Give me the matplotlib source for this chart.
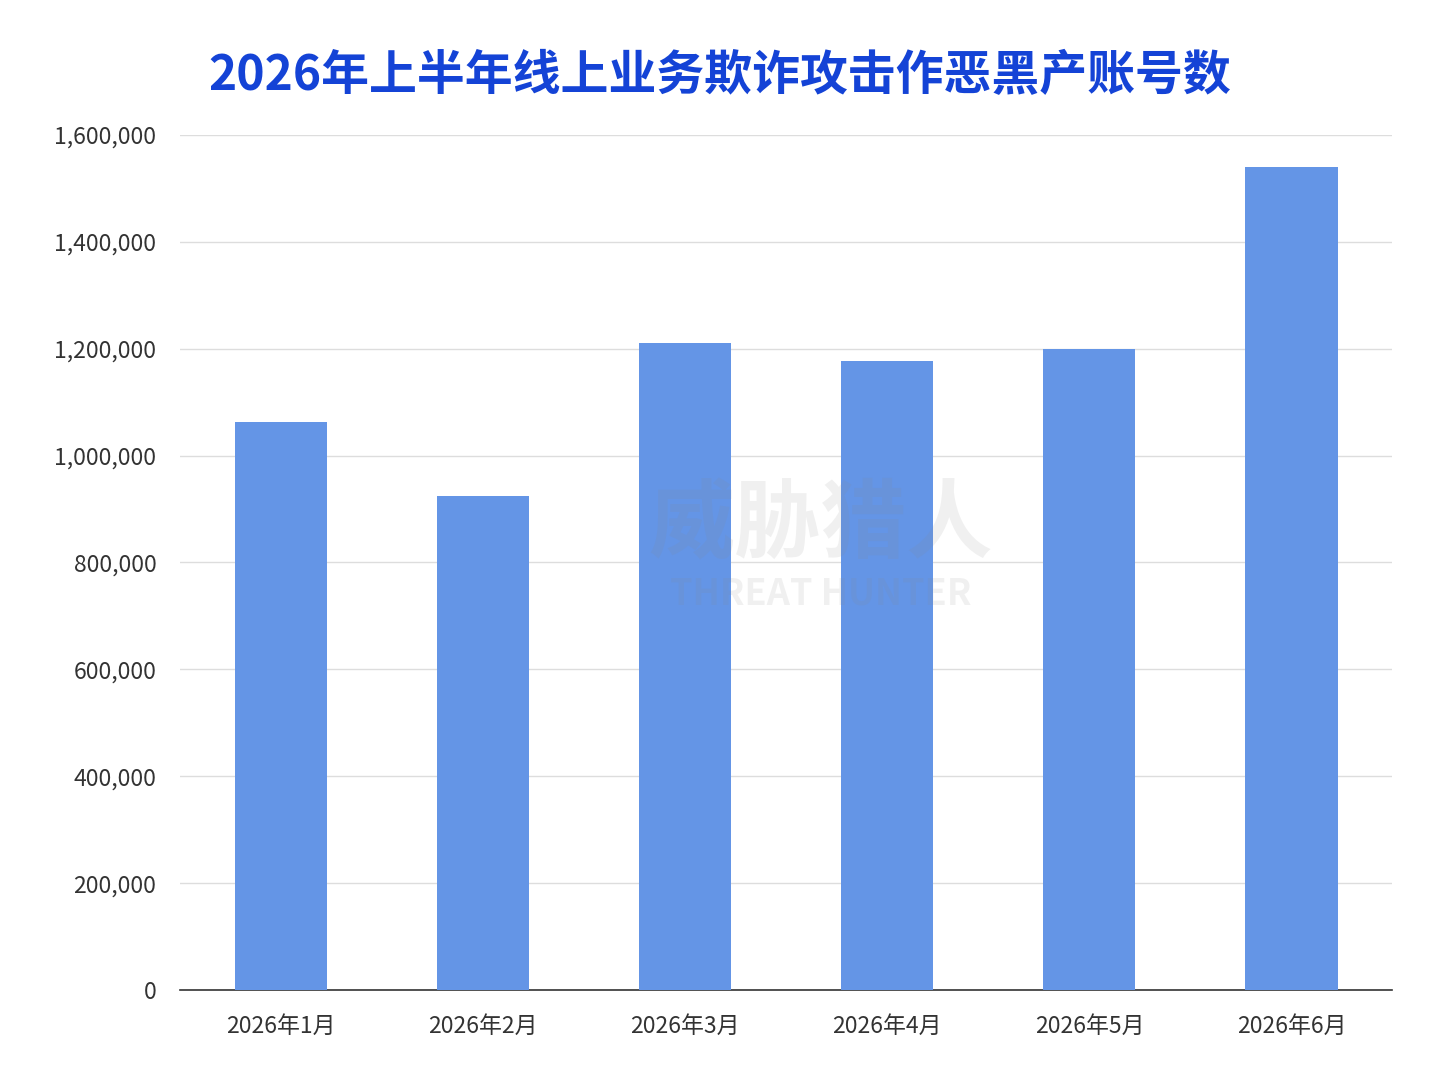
import matplotlib
matplotlib.use("Agg")
import matplotlib.pyplot as plt
from matplotlib.ticker import FuncFormatter

plt.rcParams['font.family'] = ['Noto Sans CJK SC', 'DejaVu Sans']

months = ["2026年1月", "2026年2月", "2026年3月", "2026年4月", "2026年5月", "2026年6月"]
counts = [1062000, 925000, 1210000, 1177000, 1199000, 1541000]
title = "2026年上半年线上业务欺诈攻击作恶黑产账号数"

fig = plt.figure(figsize=(14.4, 10.86), dpi=100)
ax = fig.add_axes([0.125, 0.0884, 0.842, 0.7873])
ax.bar(range(len(months)), counts, width=0.456, color="#6495E6", zorder=3)
ax.set_xlim(-0.5, len(months) - 0.5)
ax.set_ylim(0, 1600000)
ax.set_yticks(range(0, 1600001, 200000))
ax.yaxis.set_major_formatter(FuncFormatter(lambda v, p: f"{int(v):,}"))
ax.set_xticks(range(len(months)))
ax.set_xticklabels(months)
ax.tick_params(axis='both', length=0, labelsize=16.5, colors="#333333")
ax.tick_params(axis='y', pad=17)
ax.tick_params(axis='x', pad=18)
ax.grid(axis='y', color="#DDDDDD", linewidth=1, zorder=0)
for s in ["top", "right", "left"]:
    ax.spines[s].set_visible(False)
ax.spines["bottom"].set_color("#333333")
ax.spines["bottom"].set_linewidth(1.2)

fig.text(0.5, 0.93, title, ha="center", va="center", fontsize=34.5,
         fontweight="bold", color="#1443D6")
# watermark
fig.text(0.57, 0.515, "威胁猎人", ha="center", va="center", fontsize=62,
         fontweight="bold", color="#888888", alpha=0.12)
fig.text(0.57, 0.453, "THREAT HUNTER", ha="center", va="center", fontsize=26,
         fontweight="bold", color="#888888", alpha=0.12)

fig.savefig("out.png", dpi=100, facecolor="white")
